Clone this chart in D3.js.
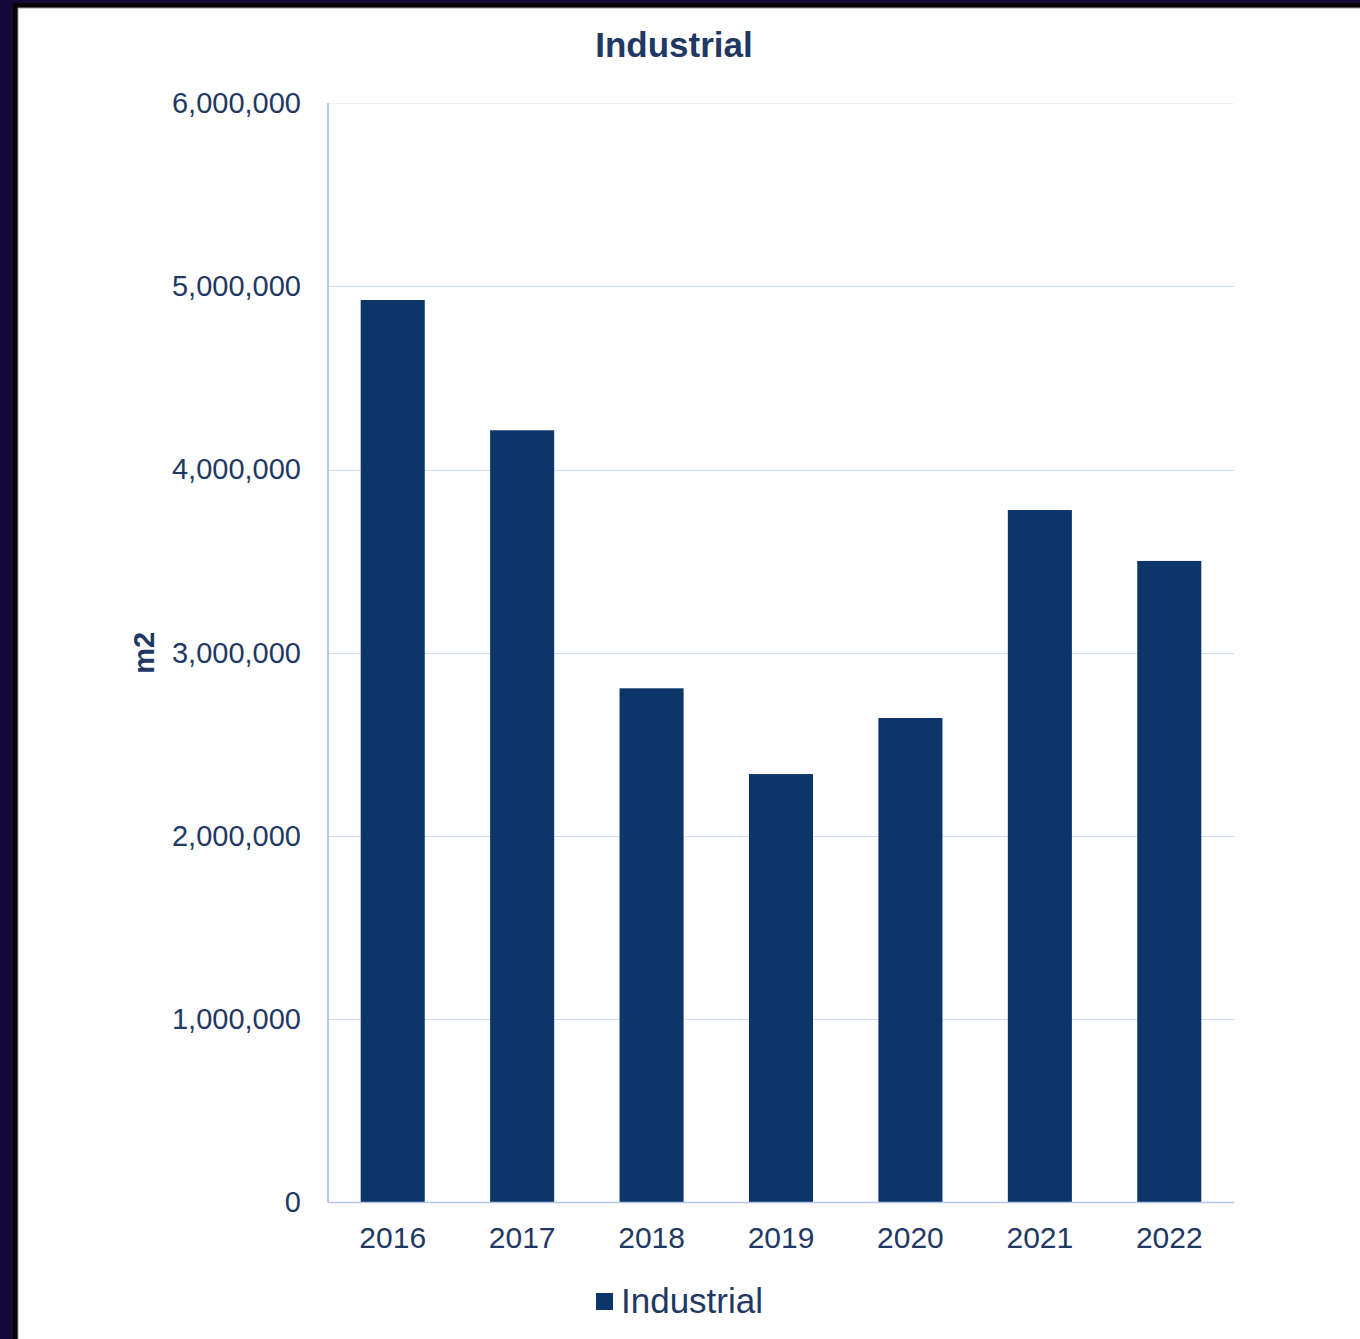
<!DOCTYPE html>
<html>
<head>
<meta charset="utf-8">
<script src="https://cdn.jsdelivr.net/npm/d3@7"></script>
<style>
  html, body { margin: 0; padding: 0; background: #ffffff; }
  svg { display: block; }
  text { font-family: "Liberation Sans", Arial, sans-serif; }
</style>
</head>
<body>
<svg id="chart" width="1360" height="1339"></svg>
<script>
// Industrial floor area by year (m2)
const years = ["2016", "2017", "2018", "2019", "2020", "2021", "2022"];
const industrial = [4925000, 4214000, 2806000, 2338000, 2644000, 3779000, 3501000];
const yTicks = [0, 1000000, 2000000, 3000000, 4000000, 5000000, 6000000];
const seriesName = "Industrial";
const chartTitle = "Industrial";
const yAxisTitle = "m2";

const ink = "#1f3864";
const barFill = "#0c356a";
const gridColor = "#d3ddf1";
const axisColor = "#b4c6e7";

const svg = d3.select("#chart");

// Frame around the white chart panel
svg.append("rect").attr("x", 0).attr("y", 0).attr("width", 1360).attr("height", 1339).attr("fill", "#140939");
svg.append("rect").attr("x", 13).attr("y", 3).attr("width", 1347).attr("height", 1336).attr("fill", "#050308");
svg.append("rect").attr("x", 17.5).attr("y", 7.5).attr("width", 1343).attr("height", 1332).attr("fill", "#9a9a9a");
svg.append("rect").attr("x", 18.5).attr("y", 8.5).attr("width", 1342).attr("height", 1331).attr("fill", "#ffffff");

const plot = { left: 328, right: 1234, top: 103, bottom: 1202.5 };

const x = d3.scaleBand()
  .domain(years)
  .range([plot.left, plot.right])
  .paddingInner(0.505)
  .paddingOuter(0.2525);

const y = d3.scaleLinear()
  .domain([0, 6000000])
  .range([plot.bottom, plot.top]);

const fmt = d3.format(",");

// Horizontal gridlines
svg.append("g")
  .selectAll("line")
  .data(yTicks.filter(d => d > 0))
  .join("line")
  .attr("x1", plot.left)
  .attr("x2", plot.right)
  .attr("y1", d => Math.round(y(d)) + 0.5)
  .attr("y2", d => Math.round(y(d)) + 0.5)
  .attr("stroke", d => d === 6000000 ? "#eef1f8" : gridColor)
  .attr("stroke-width", 1.2);

// Y axis tick labels
const yAxis = d3.axisLeft(y).tickValues(yTicks).tickFormat(fmt).tickSize(0).tickPadding(27);
const gy = svg.append("g").attr("transform", `translate(${plot.left},0)`).call(yAxis);
gy.select(".domain").remove();
gy.selectAll("text")
  .attr("fill", ink)
  .attr("font-size", 29)
  .attr("font-family", "'Liberation Sans', Arial, sans-serif");

// Bars
svg.append("g")
  .selectAll("rect")
  .data(years.map((yr, i) => ({ yr, v: industrial[i] })))
  .join("rect")
  .attr("x", d => x(d.yr))
  .attr("y", d => y(d.v))
  .attr("width", x.bandwidth())
  .attr("height", d => y(0) - y(d.v))
  .attr("fill", barFill);

// Axis lines
svg.append("line")
  .attr("x1", plot.left).attr("x2", plot.left)
  .attr("y1", plot.top).attr("y2", plot.bottom)
  .attr("stroke", axisColor).attr("stroke-width", 2);
svg.append("line")
  .attr("x1", plot.left).attr("x2", plot.right)
  .attr("y1", plot.bottom).attr("y2", plot.bottom)
  .attr("stroke", axisColor).attr("stroke-width", 1.5);

// X axis labels
const xAxis = d3.axisBottom(x).tickSize(0).tickPadding(24);
const gx = svg.append("g").attr("transform", `translate(0,${plot.bottom})`).call(xAxis);
gx.select(".domain").remove();
gx.selectAll("text")
  .attr("fill", ink)
  .attr("font-size", 30)
  .attr("font-family", "'Liberation Sans', Arial, sans-serif");

// Title
svg.append("text")
  .attr("x", 674)
  .attr("y", 57)
  .attr("text-anchor", "middle")
  .attr("font-size", 35)
  .attr("font-weight", "bold")
  .attr("fill", ink)
  .text(chartTitle);

// Y axis title
svg.append("text")
  .attr("transform", `translate(154,${(plot.top + plot.bottom) / 2}) rotate(-90)`)
  .attr("text-anchor", "middle")
  .attr("font-size", 29)
  .attr("font-weight", "bold")
  .attr("fill", ink)
  .text(yAxisTitle);

// Legend
const legend = svg.append("g").attr("transform", "translate(596,1293)");
legend.append("rect").attr("width", 17).attr("height", 17).attr("fill", barFill);
legend.append("text")
  .attr("x", 25)
  .attr("y", 20)
  .attr("font-size", 35)
  .attr("fill", ink)
  .text(seriesName);
</script>
</body>
</html>
